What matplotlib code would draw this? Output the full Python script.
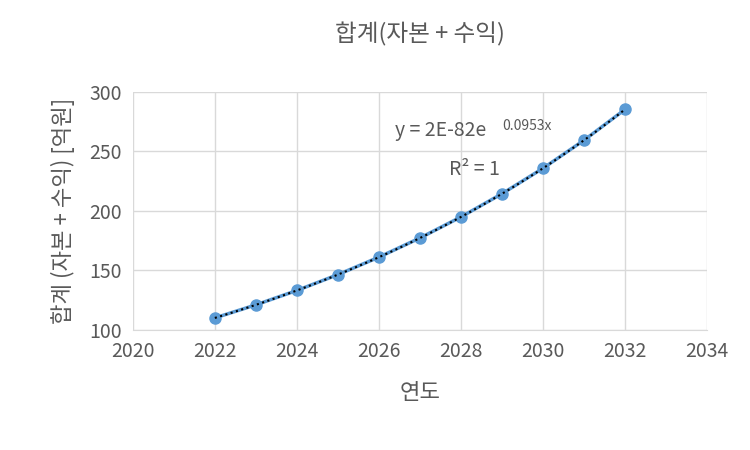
import numpy as np
import matplotlib.pyplot as plt

plt.rcParams['font.family'] = ['Noto Sans CJK KR', 'DejaVu Sans']

years = [2022, 2023, 2024, 2025, 2026, 2027, 2028, 2029, 2030, 2031, 2032]
totals = [110, 121, 133.1, 146.4, 161.1, 177.2, 194.9, 214.4, 235.8, 259.4, 285.3]

fig = plt.figure(figsize=(7.5, 4.5), dpi=100)
ax = fig.add_axes([0.177, 0.267, 0.766, 0.529])

ax.plot(years, totals, color='#5b9bd5', linewidth=2.5, marker='o', markersize=8, zorder=3)

# 지수 추세선
b, a = np.polyfit(years, np.log(totals), 1)
xs = np.linspace(years[0], years[-1], 100)
ax.plot(xs, np.exp(a + b * xs), color='black', linestyle=':', linewidth=1.5, zorder=4)

ax.set_xlim(2020, 2034)
ax.set_ylim(100, 300)
ax.set_xticks(range(2020, 2035, 2))
ax.set_yticks(range(100, 301, 50))
ax.grid(True, color='#d9d9d9', linewidth=1)
for s in ax.spines.values():
    s.set_visible(False)
ax.spines['bottom'].set_visible(True)
ax.spines['bottom'].set_color('#d9d9d9')
ax.tick_params(length=0, labelsize=14, colors='#595959', pad=8)

ax.set_title('합계(자본 + 수익)', fontsize=17, color='#595959', pad=36)
ax.set_xlabel('연도', fontsize=16, color='#595959', labelpad=14)
ax.set_ylabel('합계 (자본 + 수익) [억원]', fontsize=16, color='#595959', labelpad=10)

ax.text(2026.4, 263, 'y = 2E-82e', fontsize=14, color='#595959')
ax.text(2029.0, 268, '0.0953x', fontsize=10, color='#595959')
ax.text(2027.7, 230, 'R² = 1', fontsize=14, color='#595959')

fig.savefig('out.png', dpi=100)
